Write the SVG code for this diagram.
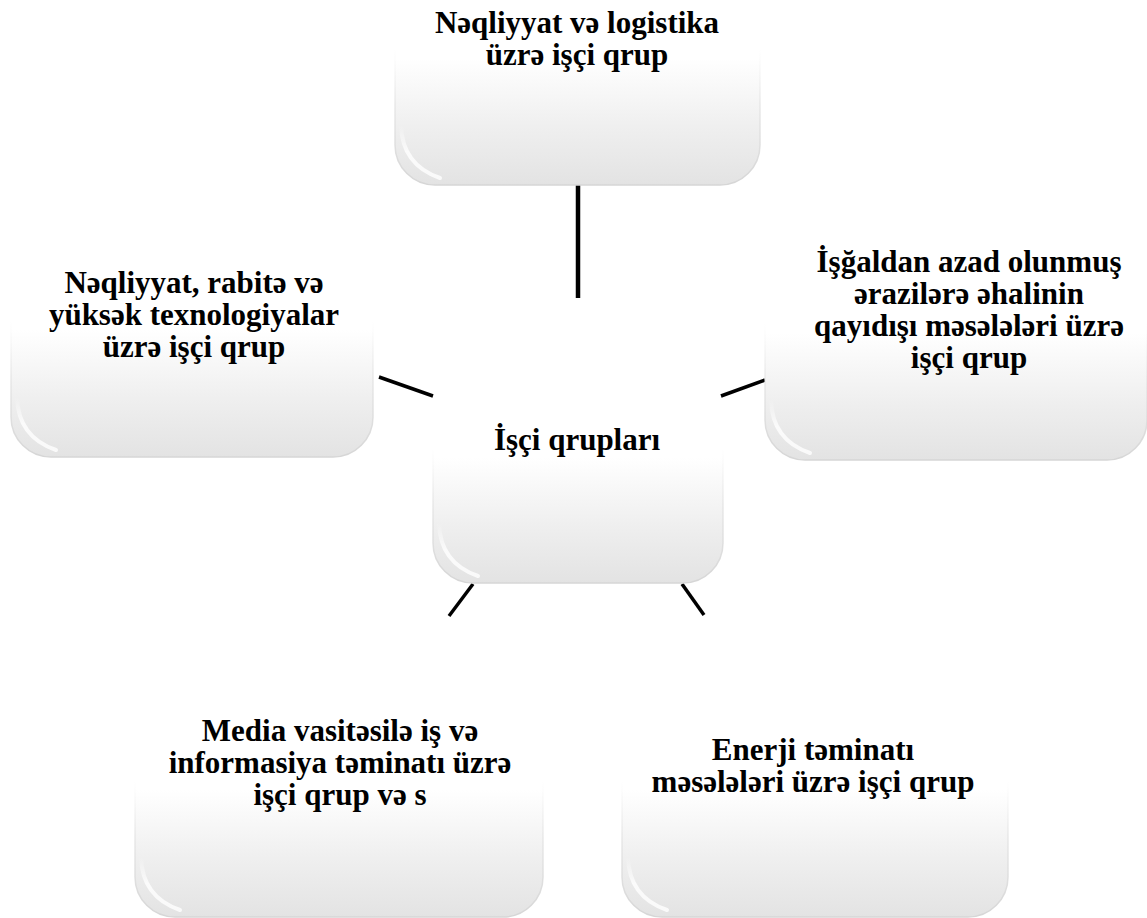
<svg xmlns="http://www.w3.org/2000/svg" width="1147" height="918" viewBox="0 0 1147 918">
<defs>
<linearGradient id="fillG" x1="0" y1="0" x2="0" y2="1">
<stop offset="0" stop-color="#ffffff"/>
<stop offset="0.35" stop-color="#ffffff"/>
<stop offset="0.7" stop-color="#efefef"/>
<stop offset="1" stop-color="#e3e3e3"/>
</linearGradient>
<linearGradient id="edgeG" x1="0" y1="0" x2="0" y2="1">
<stop offset="0" stop-color="#e8e8e8" stop-opacity="0"/>
<stop offset="0.3" stop-color="#e8e8e8" stop-opacity="0"/>
<stop offset="0.6" stop-color="#e0e0e0" stop-opacity="0.7"/>
<stop offset="1" stop-color="#d6d6d6" stop-opacity="1"/>
</linearGradient>
<linearGradient id="hiG" x1="0" y1="0" x2="0" y2="1">
<stop offset="0" stop-color="#ffffff" stop-opacity="0"/>
<stop offset="0.5" stop-color="#ffffff" stop-opacity="0.8"/>
<stop offset="1" stop-color="#ffffff" stop-opacity="0.8"/>
</linearGradient>
</defs>
<style>
.box{fill:url(#fillG);stroke:url(#edgeG);stroke-width:1.5}
.hi{fill:none;stroke:url(#hiG);stroke-width:4;stroke-linecap:round}
.lbl{font-family:"Liberation Serif","Times New Roman",serif;font-weight:bold;font-size:31px;fill:#000;text-anchor:middle}
.conn line{stroke:#000;stroke-width:3.5;stroke-linecap:butt}
</style>
<rect width="1147" height="918" fill="#ffffff"/>
<g id="connectors" class="conn">
<line x1="578" y1="185" x2="578" y2="298" style="stroke-width:4.5"/>
<line x1="379" y1="377" x2="433" y2="396"/>
<line x1="721" y1="396" x2="765" y2="380"/>
<line x1="473" y1="584" x2="449" y2="616"/>
<line x1="682" y1="584" x2="704" y2="615"/>
</g>
<g id="node-top">
<rect class="box" x="395" y="-10" width="365" height="195" rx="40"/>
<path class="hi" d="M401 125 Q402 165 440 178"/>
<text class="lbl" x="577" y="33">Nəqliyyat və logistika</text>
<text class="lbl" x="577" y="65">üzrə işçi qrup</text>
</g>
<g id="node-left">
<rect class="box" x="11" y="262" width="362" height="195" rx="40"/>
<path class="hi" d="M17 397 Q18 437 56 450"/>
<text class="lbl" x="194" y="293">Nəqliyyat, rabitə və</text>
<text class="lbl" x="194" y="325">yüksək texnologiyalar</text>
<text class="lbl" x="194" y="357">üzrə işçi qrup</text>
</g>
<g id="node-center">
<rect class="box" x="433" y="390" width="290" height="193" rx="40"/>
<path class="hi" d="M439 523 Q440 563 478 576"/>
<text class="lbl" x="577" y="450">İşçi qrupları</text>
</g>
<g id="node-right">
<rect class="box" x="765" y="265" width="382" height="195" rx="40"/>
<path class="hi" d="M771 400 Q772 440 810 453"/>
<text class="lbl" x="969" y="272">İşğaldan azad olunmuş</text>
<text class="lbl" x="969" y="304">ərazilərə əhalinin</text>
<text class="lbl" x="969" y="336">qayıdışı məsələləri üzrə</text>
<text class="lbl" x="969" y="368">işçi qrup</text>
</g>
<g id="node-bottom-left">
<rect class="box" x="135" y="722" width="408" height="195" rx="40"/>
<path class="hi" d="M141 857 Q142 897 180 910"/>
<text class="lbl" x="340" y="741">Media vasitəsilə iş və</text>
<text class="lbl" x="340" y="773">informasiya təminatı üzrə</text>
<text class="lbl" x="340" y="805">işçi qrup və s</text>
</g>
<g id="node-bottom-right">
<rect class="box" x="622" y="722" width="386" height="195" rx="40"/>
<path class="hi" d="M628 857 Q629 897 667 910"/>
<text class="lbl" x="813" y="760">Enerji təminatı</text>
<text class="lbl" x="813" y="792">məsələləri üzrə işçi qrup</text>
</g>
</svg>
